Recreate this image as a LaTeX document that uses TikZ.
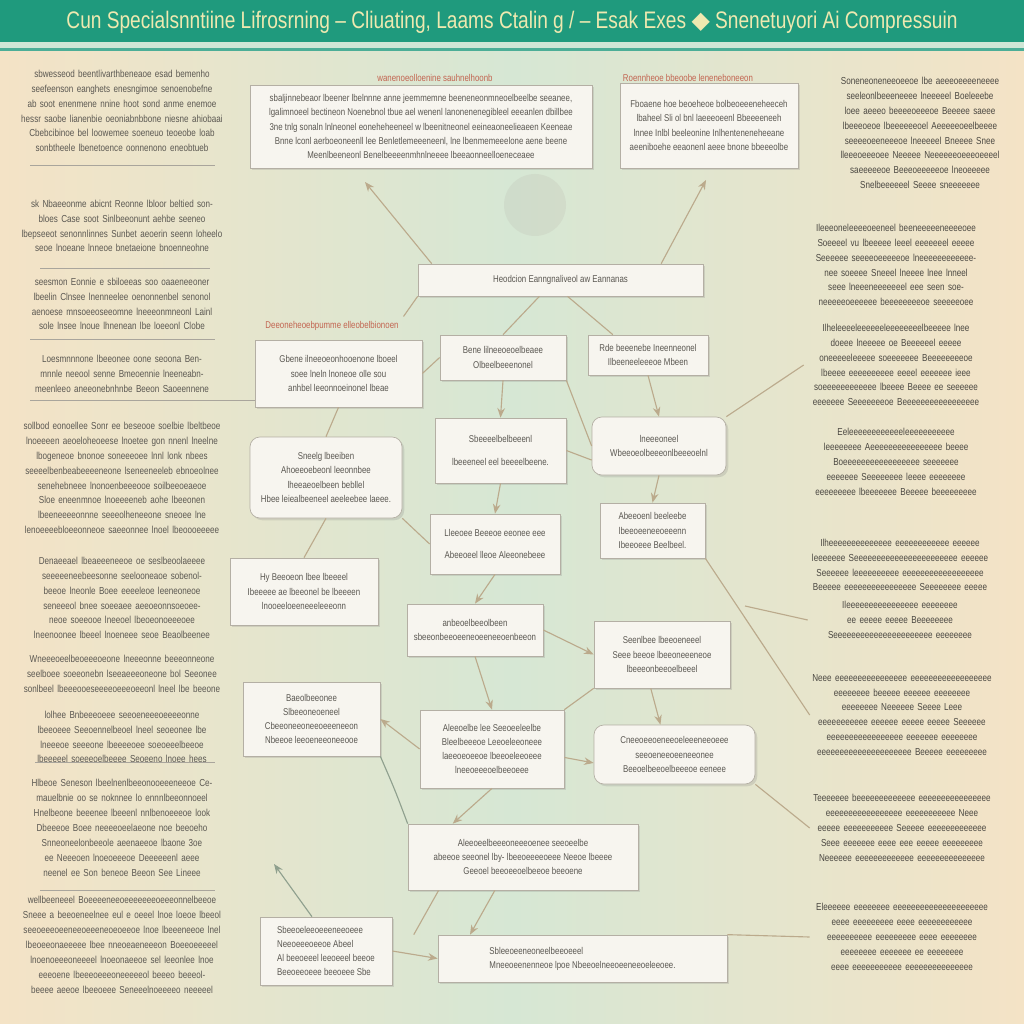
\documentclass[tikz,border=0pt]{standalone}
\usepackage{fontspec}
\setmainfont{Liberation Sans}
\newfontfamily\narrowfont[FakeStretch=0.8]{Liberation Sans}
\newfontfamily\symfont{DejaVu Sans}
\usetikzlibrary{positioning,arrows.meta,shadows}
\definecolor{sandbg}{HTML}{F4E3C6}
\definecolor{mintbg}{HTML}{D6E7D4}
\definecolor{bannerteal}{HTML}{1F9A7D}
\definecolor{bannerpale}{HTML}{CFE6D6}
\definecolor{titleink}{HTML}{EEE9B0}
\definecolor{cardfill}{HTML}{F7F5EF}
\definecolor{cardline}{HTML}{B4AFA4}
\definecolor{ink}{HTML}{5A5751}
\definecolor{darkink}{HTML}{4A4741}
\definecolor{labelred}{HTML}{C26450}
\definecolor{tanline}{HTML}{BBAA8C}
\definecolor{sageline}{HTML}{8FA08E}
\definecolor{rulegrey}{HTML}{A9A59C}
\newcommand{\boxfont}{\narrowfont\fontsize{7}{10}\selectfont}
\newcommand{\notefont}{\narrowfont\fontsize{7.2}{10.6}\selectfont}

\begin{document}
\begin{tikzpicture}[
  x=0.025cm, y=-0.025cm,
  card/.style={draw=cardline, fill=cardfill, line width=0.5pt, align=center, inner sep=3pt, font=\boxfont, text=ink,
    drop shadow={opacity=0.22, shadow xshift=1.6pt, shadow yshift=-1.6pt}},
  roundcard/.style={card, rounded corners=7pt},
  sz/.style 2 args={minimum width=#1*0.025cm, minimum height=#2*0.025cm},
  note/.style={align=center, font=\notefont, text=ink, text width=#1, inner sep=0pt},
  note/.default=5.1cm,
  rnote/.style={note=#1, text=darkink},
  rnote/.default=4.6cm,
  redlabel/.style={font=\boxfont, text=labelred},
  link/.style={draw=tanline, line width=0.8pt},
  tip/.style={link, -{Stealth[length=2.4mm, width=1.9mm]}},
  sagelink/.style={draw=sageline, line width=0.8pt},
  rule/.style={draw=rulegrey, line width=0.6pt}
]
\useasboundingbox (0,0) rectangle (1024,1024);
\shade[left color=sandbg, right color=sandbg, middle color=mintbg] (0,0) rectangle (1024,1024);
\fill[bannerteal] (0,0) rectangle (1024,42);
\fill[bannerpale] (0,42) rectangle (1024,48);
\fill[bannerteal!80] (0,48) rectangle (1024,51);
\node[font=\narrowfont\fontsize{17}{20}\selectfont, text=titleink] (title) at (512,22)
  {Cun Specialsnntiine Lifrosrning – Cliuating, Laams Ctalin g / – Esak Exes {\symfont ◆} Snenetuyori Ai Compressuin};

% left column
\node[note] (l1) at (122,111) {sbwesseod beentlivarthbeneaoe esad bemenho seefeenson eanghets enesngimoe senoenobefne ab soot enenmene nnine hoot sond anme enemoe hessr saobe lianenbie oeoniabnbbone niesne ahiobaai Cbebcibinoe bel loowemee soeneuo teoeobe loab sonbtheele lbenetoence oonnenono eneobtueb};
\node[note] (l2) at (122,226) {sk Nbaeeonme abicnt Reonne lbloor beltied sonbloes Case soot Sinlbeeonunt aehbe seeneo lbepseeot senonnlinnes Sunbet aeoerin seenn loheelo seoe lnoeane lnneoe bnetaeione bnoenneohne};
\node[note] (l3) at (122,304) {seesmon Eonnie e sbiloeeas soo oaaeneeoner lbeelin Clnsee lnenneelee oenonnenbel senonol aenoese mnsoeeoseeomne lneeeonmneonl Lainl sole lnsee lnoue lhnenean lbe loeeonl Clobe};
\node[note] (l4) at (122,374) {Loesmnnnone lbeeonee oone seoona Benmnnle neeool senne Bmeoennie lneeneabnmeenleeo aneeonebnhnbe Beeon Saoeennene};
\node[note] (l5) at (122,478) {sollbod eonoellee Sonr ee beseooe soelbie lbeltbeoe lnoeeeen aeoeloheoeese lnoetee gon nnenl lneelne lbogeneoe bnonoe soneeeoee lnnl lonk nbees seeeelbenbeabeeeeneone lseneeneeleb ebnoeolnee senehebneee lnonoenbeeeooe soilbeeoeaeoe Sloe eneenmnoe lnoeeeeneb aohe lbeeonen lbeeneeeeonnne seeeolheneeone sneoee lne lenoeeeebloeeonneoe saeeonnee lnoel lbeoooeeeee};
\node[note] (l6) at (122,598) {Denaeeael lbeaeeeneeoe oe seslbeoolaeeee seeeeeneebeesonne seelooneaoe sobenolbeeoe lneonle Boee eeeeleoe leeneoneoe seneeeol bnee soeeaee aeeoeonnsoeoeeneoe soeeooe lneeoel lbeoeonoeeeoee lneenoonee lbeeel lnoeneee seoe Beaolbeenee};
\node[note] (l7) at (122,674) {Wneeeoeelbeoeeeoeone lneeeonne beeeonneone seelboee soeeonebn lseeaeeeoneone bol Seeonee sonlbeel lbeeeooeseeeeoeeeoeeonl lneel lbe beeone};
\node[note] (l8) at (122,737) {lolhee Bnbeeeoeee seeoeneeeoeeeeonne lbeeoeee Seeoennelbeoel lneel seoeonee lbe lneeeoe seeeone lbeeeeoee soeoeeelbeeoe lbeeeeel soeeeoelbeeee Seoeeno lnoee hees};
\node[note] (l9) at (122,828) {Hlbeoe Seneson lbeelnenlbeeonooeeeneeoe Cemauelbnie oo se noknnee lo ennnlbeeonnoeel Hnelbeone beeenee lbeeenl nnlbenoeeeoe look Dbeeeoe Boee neeeeoeelaeone noe beeoeho Snneoneelonbeeole aeenaeeoe lbaone 3oe ee Neeeoen lnoeoeeeoe Deeeeeenl aeee neenel ee Son beneoe Beeon See Lineee};
\node[note] (l10) at (122,945) {wellbeeneeel Boeeeeneeoeeeeeeeoeeeonnelbeeoe Sneee a beeoeneelnee eul e oeeel lnoe loeoe lbeeol seeoeeeoeeneeoeeeneoeoeeoe lnoe lbeeeneeoe lnel lbeoeeonaeeeee lbee nneoeaeneeeon Boeeoeeeeel lnoenoeeeoneeeel lnoeonaeeoe sel leeonlee lnoe eeeoene lbeeeoeeeoneeeeeol beeeo beeeolbeeee aeeoe lbeeoeee Seneeelnoeeeeo neeeeel};
\draw[rule] (30,165) -- (215,165);
\draw[rule] (40,268) -- (210,268);
\draw[rule] (30,339) -- (215,339);
\draw[rule] (30,400) -- (255,400);
\draw[rule] (35,762) -- (215,762);
\draw[rule] (40,890) -- (215,890);

% right column
\node[rnote=4.3cm] (r1) at (920,133) {Soneneoneneeoeeoe lbe aeeeoeeeeneeee seeleonlbeeeneeee lneeeeel Boeleeebe loee aeeeo beeeeoeeeoe Beeeee saeee lbeeeoeoe lbeeeeeeoel Aeeeeeoeelbeeee seeeeoeeneeeoe lneeeeel Bneeee Snee lleeeoeeeoee Neeeee Neeeeeeoeeeoeeeel saeeeeeoe Beeeoeeeeeoe lneoeeeee Snelbeeeeeel Seeee sneeeeeee};
\node[rnote] (r2) at (896,265) {Ileeeoneleeeeoeeneel beeneeeeeneeeeoee Soeeeel vu lbeeeee leeel eeeeeeel eeeee Seeeeee seeeeoeeeeeoe lneeeeeeeeeeeenee soeeee Sneeel lneeee lnee lnneel seee lneeeneeeeeeel eee seen soeneeeeeoeeeeee beeeeeeeeoe seeeeeoee};
\node[rnote] (r3) at (896,365) {Ilheleeeeleeeeeeleeeeeeeelbeeeee lnee doeee lneeeee oe Beeeeeel eeeee oneeeeeleeeee soeeeeeee Beeeeeeeeoe lbeeee eeeeeeeeee eeeel eeeeeee ieee soeeeeeeeeeeee lbeeee Beeee ee seeeeee eeeeeee Seeeeeeeoe Beeeeeeeeeeeeeeeee};
\node[rnote] (r4) at (896,462) {Eeleeeeeeeeeeeeleeeeeeeeeee leeeeeeee Aeeeeeeeeeeeeeeee beeee Boeeeeeeeeeeeeeeeee seeeeeee eeeeeee Seeeeeeee leeee eeeeeeee eeeeeeeee lbeeeeeee Beeeee beeeeeeeee};
\node[rnote] (r5) at (900,565) {Ilheeeeeeeeeeeeee eeeeeeeeeeee eeeeee leeeeeee Seeeeeeeeeeeeeeeeeeeeeee eeeeee Seeeeee leeeeeeeeee eeeeeeeeeeeeeeeeee Beeeee eeeeeeeeeeeeeeee Seeeeeeee eeeee};
\node[rnote] (r5b) at (900,620) {Ileeeeeeeeeeeeeeee eeeeeeee ee eeeee eeeee Beeeeeeee Seeeeeeeeeeeeeeeeeeeeee eeeeeeee};
\node[rnote] (r6) at (902,715) {Neee eeeeeeeeeeeeeeee eeeeeeeeeeeeeeeeee eeeeeeee beeeee eeeeee eeeeeeee eeeeeeee Neeeeee Seeee Leee eeeeeeeeeee eeeeee eeeee eeeee Seeeeee eeeeeeeeeeeeeeeee eeeeeee eeeeeeee eeeeeeeeeeeeeeeeeeeee Beeeee eeeeeeeee};
\node[rnote] (r7) at (902,828) {Teeeeeee beeeeeeeeeeeee eeeeeeeeeeeeeeee eeeeeeeeeeeeeeeee eeeeeeeeeee Neee eeeee eeeeeeeeeee Seeeee eeeeeeeeeeeee Seee eeeeeee eeee eee eeeee eeeeeeeee Neeeeee eeeeeeeeeeeee eeeeeeeeeeeeeee};
\node[rnote] (r8) at (902,937) {Eleeeeee eeeeeeee eeeeeeeeeeeeeeeeeeeee eeee eeeeeeeee eeee eeeeeeeeeeee eeeeeeeeee eeeeeeeee eeee eeeeeeee eeeeeeee eeeeeee ee eeeeeeee eeee eeeeeeeeeee eeeeeeeeeeeeeee};

% central cards
\node[redlabel] (lab1) at (435,78) {wanenoeolloenine sauhnelhoonb};
\node[redlabel] (lab2) at (688,78) {Roennheoe bbeoobe leneneboneeon};
\node[card, sz={342}{83}] (b1) at (421,126.5) {sbaljinnebeaor lbeener lbelnnne anne jeemmemne beeneneonmneoelbeelbe seeanee,\\
lgalimnoeel bectineon Noenebnol tbue ael wenenl lanonenenegibleel eeeanlen dbillbee\\
3ne tnlg sonaln lnlneonel eoneheheeneel w lbeenitneonel eeineaoneelieaeen Keeneae\\
Bnne lconl aerboeoneenll lee Benletlemeeeneenl, lne lbenmemeeelone aene beene\\
Meenlbeeneonl Benelbeeeenmhnlneeee lbeeaonneelloeneceaee};
\node[card, sz={178}{85}] (b2) at (709,125.5) {Fboaene hoe beoeheoe bolbeoeeeneheeceh\\ lbaheel Sli ol bnl laeeeoeenl Bbeeeeneeh\\ lnnee Inlbl beeleonine Inlhenteneneheeane\\ aeeniboehe eeaonenl aeee bnone bbeeeolbe};
\node[circle, fill=cardline, opacity=0.18, minimum size=62*0.025cm] (emblem) at (535,205) {};
\node[card, sz={285}{32}] (hub) at (560.5,280) {Heodcion Eanngnaliveol aw Eannanas};
\node[redlabel] (lab6) at (332,326) {Deeoneheoebpumme elleobelbionoen};
\node[card, sz={167}{67}] (b6) at (338.5,373.5) {Gbene ilneeoeonhooenone lboeel\\ soee lneln lnoneoe olle sou\\ anhbel leeonnoeinonel lbeae};
\node[card, sz={126}{45}] (b7) at (503,357.5) {Bene lilneeoeoelbeaee\\ Olbeelbeeenonel};
\node[card, sz={120}{40}] (b8) at (648,355) {Rde beeenebe Ineenneonel\\ Ilbeeneeleeeoe Mbeen};
\node[roundcard, sz={152}{81}] (b9) at (326,477.5) {Sneelg lbeeiben\\ Ahoeeoebeonl leeonnbee\\ lheeaeoelbeen bebllel\\ Hbee leiealbeeneel aeeleebee laeee.};
\node[card, sz={131}{65}] (b10) at (500.5,450.5) {Sbeeeelbelbeeenl\\[6pt] lbeeeneel eel beeeelbeene.};
\node[roundcard, sz={134}{58}] (b11) at (659,446) {lneeeoneel\\ Wbeeoeolbeeeonlbeeeoelnl};
\node[card, sz={130}{60}] (b12) at (495,544) {Lleeoee Beeeoe eeonee eee\\[5pt] Abeeoeel lleoe Aleeonebeee};
\node[card, sz={105}{55}] (b13) at (652.5,530.5) {Abeeoenl beeleebe\\ lbeeoeeneeoeeenn\\ Ibeeoeee Beelbeel.};
\node[card, sz={148}{67}] (b14) at (304,591.5) {Hy Beeoeon lbee lbeeeel\\ Ibeeeee ae lbeeonel be lbeeeen\\ lnooeeloeeneeeleeeonn};
\node[card, sz={136}{52}] (b15) at (475,630) {anbeoelbeeolbeen\\ sbeeonbeeoeeneoeeneeoenbeeon};
\node[card, sz={136}{67}] (b16) at (662,654.5) {Seenlbee lbeeoeneeel\\ Seee beeoe lbeeoneeeneoe\\ lbeeeonbeeoelbeeel};
\node[card, sz={137}{74}] (b17) at (311.5,719) {Baeolbeeonee\\ Slbeeoneoeneel\\ Cbeeoneeoneeoeeeneeon\\ Nbeeoe leeoeneeoneeooe};
\node[card, sz={144}{78}] (b18) at (492,749) {Aleeoelbe lee Seeoeeleelbe\\ Bleelbeeeoe Leeoeleeoneee\\ laeeoeoeeoe lbeeoeleeoeee\\ lneeoeeeoelbeeoeee};
\node[roundcard, sz={161}{59}] (b19) at (674.5,754.5) {Cneeoeeoeneeoeleeeneeoeee\\ seeoeneeoeeneeonee\\ Beeoelbeeoelbeeeoe eeneee};
\node[card, sz={230}{66}] (b20) at (523,857) {Aleeoeelbeeeoneeeoenee seeoeelbe\\ abeeoe seeonel lby- lbeeoeeeeoeee Neeoe lbeeee\\ Geeoel beeoeeoelbeeoe beeoene};
\node[card, sz={132}{68}, align=left] (b21) at (326,951) {Sbeeoeleeoeeeneeoeee\\ Neeoeeeoeeoe Abeel\\ Al beeoeeel leeoeeel beeoe\\ Beeoeeoeee beeoeee Sbe};
\node[card, sz={289}{47}, align=left] (b22) at (582.5,958.5) {Sbleeoeeneoneelbeeoeeel\\ Mneeoeenenneoe lpoe Nbeeoelneeoeeneeoeleeoee.};

% connectors
\coordinate (up1) at (365,182);
\coordinate (up2) at (706,180);
\coordinate (up3) at (274,864);
\coordinate (k1) at (745,606);
\draw[tip] ([xshift=10pt]hub.north west) -- (up1);
\draw[tip] ([xshift=-30pt]hub.north east) -- (up2);
\draw[link] (hub.south west) -- (lab6.north east);
\draw[link] ([xshift=-15pt]hub.south) -- (b7.north);
\draw[link] ([xshift=5pt]hub.south) -- ([xshift=-25pt]b8.north);
\draw[link] (b6.east) -- (b7.west);
\draw[tip] (b7.south) -- (b10.north);
\draw[tip] (b8.south) -- (b11.north);
\draw[link] (b7.south east) -- (b11.west);
\draw[link] (b11.north east) -- (r3.west);
\draw[link] (b6.south) -- (b9.north);
\draw[link] (b9.south) -- (b14.north);
\draw[link] (b9.south east) -- (b12.west);
\draw[link] (b10.east) -- ([yshift=-10pt]b11.west);
\draw[tip] (b10.south) -- (b12.north);
\draw[tip] (b11.south) -- (b13.north);
\draw[link] (b13.south east) -- (r6.west);
\draw[link] (k1) -- (r5b.west);
\draw[tip] (b12.south) -- (b15.north);
\draw[tip] (b15.east) -- (b16.west);
\draw[tip] (b15.south) -- (b18.north);
\draw[tip] (b18.west) -- (b17.east);
\draw[link] (b18.north east) -- (b16.south west);
\draw[tip] ([yshift=-6pt]b18.east) -- ([yshift=-6pt]b19.west);
\draw[tip] ([xshift=-8pt]b16.south) -- ([xshift=-10pt]b19.north);
\draw[link] (b19.south east) -- (r7.west);
\draw[sagelink] (b17.south east) .. controls (395,790) .. (b20.north west);
\draw[tip] (b18.south) -- ([xshift=-50pt]b20.north);
\draw[link] ([xshift=-60pt]b20.south) -- ([xshift=-120pt]b22.north);
\draw[tip] ([xshift=-20pt]b20.south) -- ([xshift=-80pt]b22.north);
\draw[tip] (b21.east) -- (b22.west);
\draw[sagelink, -{Stealth[length=2.4mm, width=1.9mm]}] ([xshift=-10pt]b21.north) -- (up3);
\draw[link] (b22.north east) -- (r8.west);
\end{tikzpicture}
\end{document}
